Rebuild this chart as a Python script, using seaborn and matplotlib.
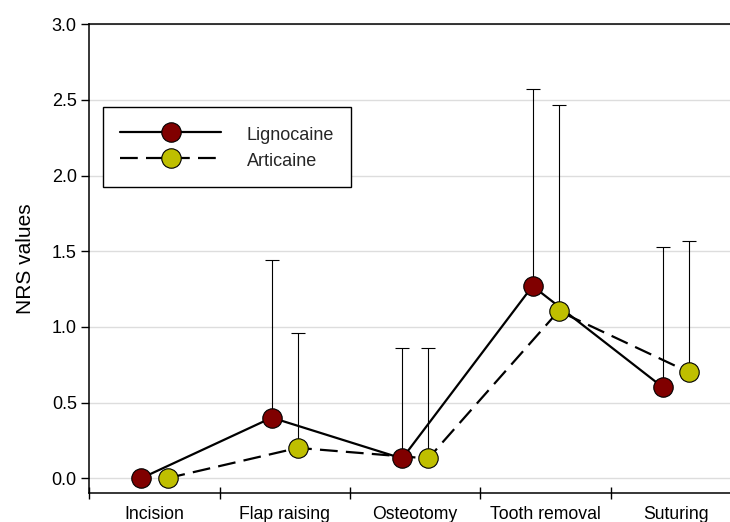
import numpy as np
import pandas as pd
import matplotlib
matplotlib.use("Agg")
import matplotlib.pyplot as plt
import seaborn as sns
from matplotlib.lines import Line2D
from matplotlib.ticker import FixedLocator

categories = ["Incision", "Flap raising", "Osteotomy", "Tooth removal", "Suturing"]
series_names = ["Lignocaine", "Articaine"]
lig_mean = [0.0, 0.40, 0.13, 1.27, 0.60]
lig_upper = [0.0, 1.44, 0.86, 2.575, 1.525]
art_mean = [0.0, 0.20, 0.13, 1.105, 0.70]
art_upper = [0.0, 0.96, 0.86, 2.467, 1.565]
y_ticks = [0.0, 0.5, 1.0, 1.5, 2.0, 2.5, 3.0]

sns.set_theme(style="white")
plt.rcParams['font.family'] = ['Liberation Sans', 'DejaVu Sans']

colors = {"Lignocaine": "#800000", "Articaine": "#BFBF00"}
offsets = {"Lignocaine": -0.1, "Articaine": 0.1}
means = {"Lignocaine": lig_mean, "Articaine": art_mean}
uppers = {"Lignocaine": lig_upper, "Articaine": art_upper}
DASH = (8, 3.7)

rows = []
for s in series_names:
    for i, c in enumerate(categories):
        rows.append({"series": s, "cat": c, "x": i + offsets[s],
                     "y": means[s][i], "up": uppers[s][i]})
df = pd.DataFrame(rows)

fig = plt.figure(figsize=(7.3, 5.22), dpi=100)
ax = fig.add_axes([0.1223, 0.0550, 0.893, 0.8984])

for s in series_names:
    d = df[df.series == s]
    err_up = d["up"].values - d["y"].values
    mask = err_up > 0
    ax.errorbar(d["x"].values[mask], d["y"].values[mask],
                yerr=[np.zeros(mask.sum()), err_up[mask]],
                fmt="none", ecolor="black", elinewidth=0.8, capsize=5,
                capthick=0.8, zorder=2)

for s in series_names:
    d = df[df.series == s]
    sns.lineplot(data=d, x="x", y="y", ax=ax, color="black", lw=1.6,
                 legend=False, zorder=3, sort=False)
    line = ax.lines[-1]
    if s == "Articaine":
        line.set_dashes(DASH)
    ax.plot(d["x"], d["y"], ls="none", marker="o", ms=14,
            mfc=colors[s], mec="black", mew=0.8, zorder=4)

ax.set_xlim(-0.5, len(categories) - 0.5)
ax.set_ylim(-0.1, 3.0)
ax.set_yticks(y_ticks)
ax.set_yticklabels([f"{v:.1f}" for v in y_ticks])
ax.set_xticks(range(len(categories)))
ax.set_xticklabels(categories)
ax.xaxis.set_minor_locator(FixedLocator(np.arange(-0.5, len(categories), 1.0)))
ax.tick_params(axis="x", which="major", length=0, labelsize=12.7, pad=9, colors="black")
ax.tick_params(axis="x", which="minor", length=9, width=1, direction="inout", bottom=True, color="black")
ax.tick_params(axis="y", which="major", length=6, width=1, direction="out", left=True, labelsize=13, colors="black", pad=3)
ax.yaxis.grid(True, color="#DDDDDD", lw=1)
ax.set_axisbelow(True)
for sp in ax.spines.values():
    sp.set_color("black")
    sp.set_linewidth(1.1)

ax.set_xlabel("")
ax.set_ylabel("NRS values", fontsize=15, labelpad=12, color="black")

handles = [
    Line2D([0], [0], color="black", lw=1.6, marker="o", ms=14,
           mfc=colors["Lignocaine"], mec="black", mew=0.8),
    Line2D([0], [0], color="black", lw=1.6, dashes=DASH, marker="o", ms=14,
           mfc=colors["Articaine"], mec="black", mew=0.8),
]
leg = ax.legend(handles, series_names, loc="upper left",
                bbox_to_anchor=(0.021, 0.824), fontsize=13,
                handlelength=5.6, handleheight=1.4, handletextpad=1.4,
                labelspacing=0.25, borderpad=0.95, borderaxespad=0,
                fancybox=False, frameon=True, edgecolor="black", framealpha=1)
leg.get_frame().set_linewidth(1.0)

fig.savefig("out.png", dpi=100)
